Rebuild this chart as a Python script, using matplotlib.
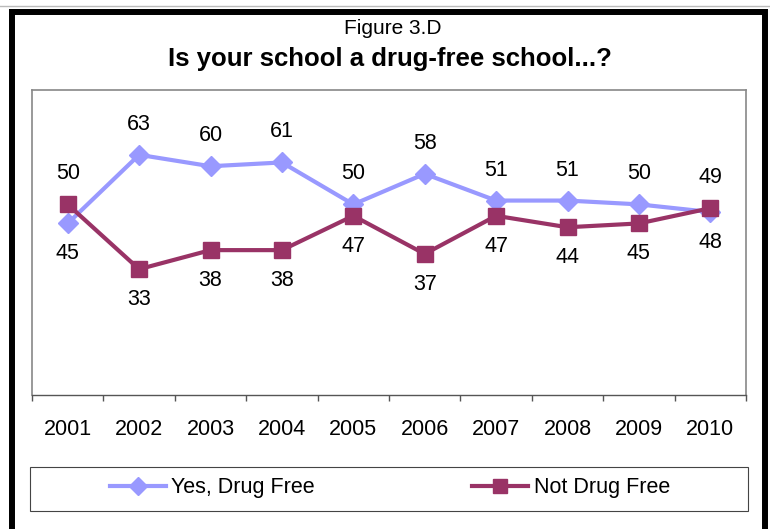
import matplotlib
matplotlib.use("Agg")
import matplotlib.pyplot as plt
from matplotlib.patches import Rectangle
from matplotlib.lines import Line2D

plt.rcParams["font.family"] = ["Liberation Sans", "DejaVu Sans"]

years = ["2001", "2002", "2003", "2004", "2005", "2006", "2007", "2008", "2009", "2010"]
yes_free = [45, 63, 60, 61, 50, 58, 51, 51, 50, 48]
not_free = [50, 33, 38, 38, 47, 37, 47, 44, 45, 49]
# label above (+1) or below (-1) the point
yes_side = [-1, 1, 1, 1, 1, 1, 1, 1, 1, -1]
not_side = [1, -1, -1, -1, -1, -1, -1, -1, -1, 1]

W, H = 770, 529
fig = plt.figure(figsize=(W / 100, H / 100), dpi=100)

ax = fig.add_axes([32 / W, 1 - 395 / H, 714 / W, 305 / H])
x = list(range(len(years)))
c_yes = "#9999ff"
c_not = "#993366"

ax.plot(x, yes_free, color=c_yes, lw=3, marker="D", ms=10, label="Yes, Drug Free")
ax.plot(x, not_free, color=c_not, lw=3, marker="s", ms=11, label="Not Drug Free")

for xi, v, s in zip(x, yes_free, yes_side):
    ax.annotate(str(v), (xi, v), xytext=(0, 22 * s), textcoords="offset points",
                ha="center", va="center", fontsize=15.5)
for xi, v, s in zip(x, not_free, not_side):
    ax.annotate(str(v), (xi, v), xytext=(0, 22 * s), textcoords="offset points",
                ha="center", va="center", fontsize=15.5)

ax.set_xlim(-0.5, len(years) - 0.5)
ax.set_ylim(0, 80)
ax.set_yticks([])
ax.set_xticks(x)
ax.set_xticklabels(years, fontsize=15.5)
ax.tick_params(axis="x", which="major", length=0, pad=17)
ax.set_xticks([i - 0.5 for i in range(len(years) + 1)], minor=True)
ax.tick_params(axis="x", which="minor", length=4, width=1, color="#555555", direction="out")
for side in ["left", "top", "right"]:
    ax.spines[side].set_color("#888888")
    ax.spines[side].set_linewidth(1.2)
ax.spines["bottom"].set_color("#555555")
ax.spines["bottom"].set_linewidth(1)

fig.text(393 / W, 1 - 29 / H, "Figure 3.D", ha="center", va="center", fontsize=15)
fig.text(390 / W, 1 - 59 / H, "Is your school a drug-free school...?", ha="center",
         va="center", fontsize=18.5, fontweight="bold")

# legend box
fig.add_artist(Rectangle((30 / W, 1 - 511 / H), 718 / W, 44 / H, transform=fig.transFigure,
                         fill=False, ec="#444444", lw=0.8))
handles = [Line2D([], [], color=c_yes, lw=3, marker="D", ms=9),
           Line2D([], [], color=c_not, lw=3, marker="s", ms=10)]
fig.legend(handles, ["Yes, Drug Free", "Not Drug Free"], loc="center",
           bbox_to_anchor=(390 / W, 1 - 488 / H), ncol=2, frameon=False, fontsize=15.5,
           handlelength=2.6, handletextpad=0.25, columnspacing=7.3)

# outer frame
fig.add_artist(Line2D([0, 1], [1 - 6 / H, 1 - 6 / H], transform=fig.transFigure,
                      color="#bbbbbb", lw=1))
fig.add_artist(Rectangle((12.5 / W, -0.1), (765 - 12.5) / W, 1.1 - 12.5 / H,
                         transform=fig.transFigure, fill=False, ec="black", lw=4.3))

fig.savefig("out.png", dpi=100)
